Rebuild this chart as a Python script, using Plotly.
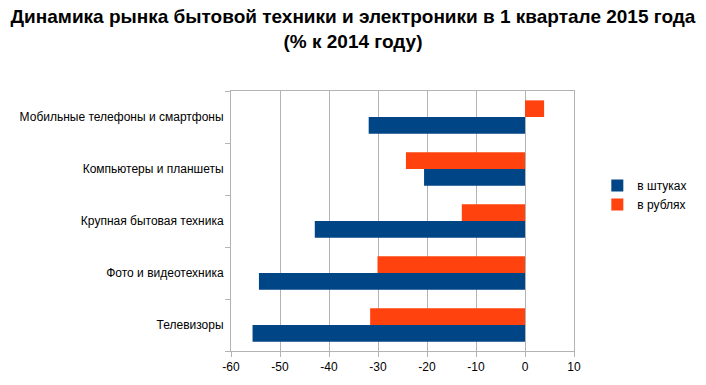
import plotly.graph_objects as go

categories = [
    "Телевизоры",
    "Фото и видеотехника",
    "Крупная бытовая техника",
    "Компьютеры и планшеты",
    "Мобильные телефоны и смартфоны",
]
units = [-55.6, -54.3, -42.9, -20.6, -31.9]
rubles = [-31.6, -30.1, -12.9, -24.3, 3.9]
x_ticks = [-60, -50, -40, -30, -20, -10, 0, 10]
x_tick_labels = [str(v) for v in x_ticks]

fig = go.Figure()
fig.add_trace(go.Bar(y=categories, x=units, orientation="h", name="в штуках",
                     marker=dict(color="#004586", line=dict(width=0))))
fig.add_trace(go.Bar(y=categories, x=rubles, orientation="h", name="в рублях",
                     marker=dict(color="#ff420e", line=dict(width=0))))

fig.update_layout(
    width=706, height=385,
    margin=dict(l=231, r=132, t=91, b=34),
    paper_bgcolor="white", plot_bgcolor="white",
    barmode="group", bargap=0.36, bargroupgap=0,
    font=dict(family="Liberation Sans, Arial, sans-serif", size=12, color="#000000"),
    title=dict(
        text="<b>Динамика рынка бытовой техники и электроники в 1 квартале 2015 года<br>(% к 2014 году)</b>",
        x=0.5, xanchor="center", y=0.94, yanchor="top",
        font=dict(size=19, family="Liberation Sans, Arial, sans-serif"),
    ),
    legend=dict(x=1.068, y=0.6, xanchor="left", yanchor="middle",
                font=dict(size=12), traceorder="normal", itemwidth=30,
                bgcolor="rgba(0,0,0,0)"),
    xaxis=dict(range=[-60, 10], tickvals=x_ticks, ticktext=x_tick_labels,
               showgrid=True, gridcolor="#b3b3b3",
               gridwidth=1, zeroline=False, showline=True, linecolor="#b3b3b3",
               ticks="outside", ticklen=5, tickcolor="#b3b3b3", mirror=True,
               tickfont=dict(size=12)),
    yaxis=dict(showgrid=False, showline=True, linecolor="#b3b3b3", ticks="outside",
               tickson="boundaries", ticklen=5, tickcolor="#b3b3b3", mirror=True,
               tickfont=dict(size=12), ticklabelstandoff=4),
)

fig.write_html("out.html", config={"displayModeBar": False},
               post_script="document.body.style.margin='0';")
